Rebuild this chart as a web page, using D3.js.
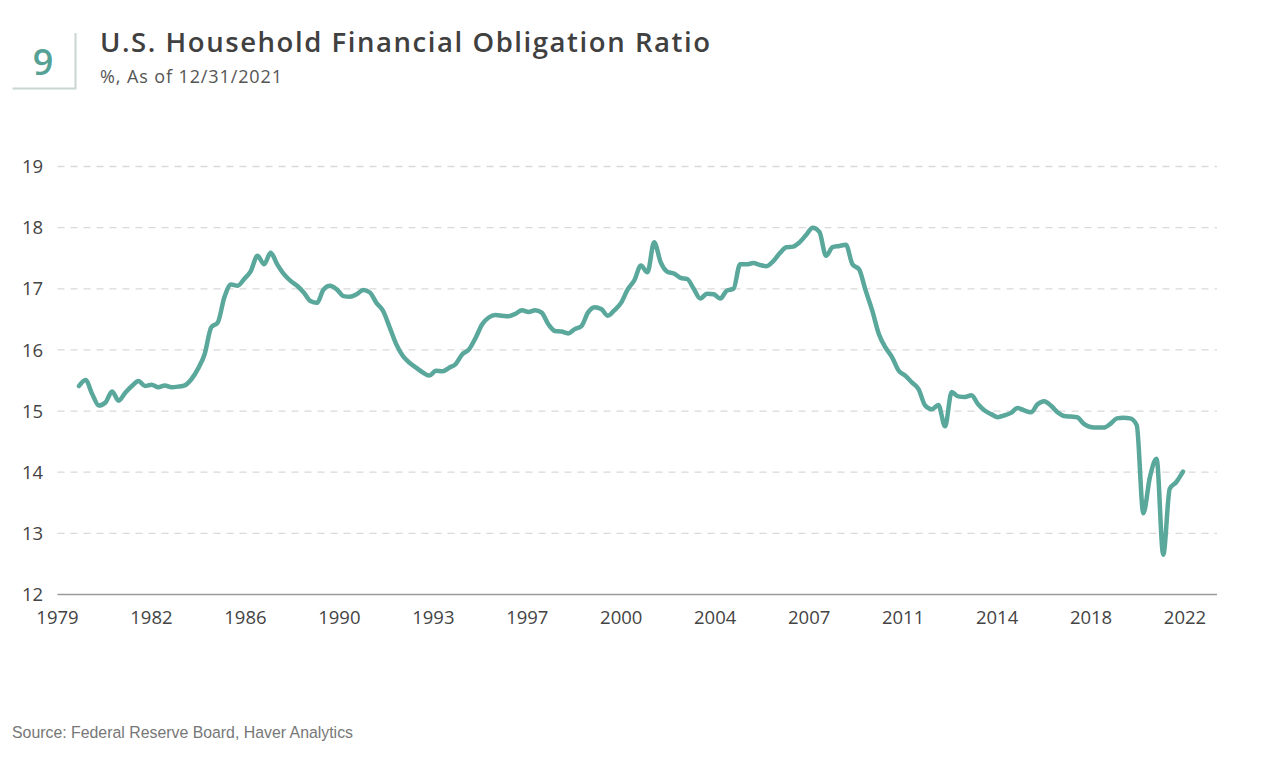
<!DOCTYPE html>
<html><head><meta charset="utf-8">
<script src="https://cdn.jsdelivr.net/npm/d3@7"></script>
<style>body{margin:0;background:#fff;} svg{display:block;}</style>
</head><body>
<svg id="chart" width="1280" height="781"></svg>
<script>
// ---- data ----
const startYear = 1980; // first quarter: 1980 Q1, quarterly through 2021 Q4
const ratio = [
15.41,15.51,15.28,15.09, // 1980
15.14,15.32,15.17,15.30, // 1981
15.41,15.49,15.41,15.43, // 1982
15.39,15.42,15.39,15.40, // 1983
15.42,15.52,15.69,15.93, // 1984
16.37,16.45,16.86,17.07, // 1985
17.05,17.16,17.29,17.54, // 1986
17.40,17.59,17.40,17.24, // 1987
17.13,17.05,16.94,16.80, // 1988
16.77,16.99,17.05,16.99, // 1989
16.88,16.87,16.91,16.98, // 1990
16.94,16.77,16.64,16.37, // 1991
16.09,15.90,15.79,15.71, // 1992
15.63,15.58,15.66,15.65, // 1993
15.71,15.77,15.93,16.01, // 1994
16.20,16.42,16.53,16.57, // 1995
16.56,16.55,16.59,16.65, // 1996
16.62,16.65,16.61,16.42, // 1997
16.31,16.30,16.27,16.34, // 1998
16.39,16.61,16.70,16.67, // 1999
16.56,16.65,16.77,16.99, // 2000
17.14,17.38,17.27,17.76, // 2001
17.43,17.28,17.25,17.18, // 2002
17.16,17.00,16.84,16.92, // 2003
16.91,16.84,16.97,17.00, // 2004
17.40,17.40,17.42,17.39, // 2005
17.37,17.45,17.58,17.68, // 2006
17.69,17.76,17.88,18.00, // 2007
17.93,17.54,17.68,17.70, // 2008
17.72,17.40,17.32,16.97, // 2009
16.64,16.26,16.04,15.88, // 2010
15.66,15.58,15.47,15.36, // 2011
15.09,15.03,15.10,14.75, // 2012
15.31,15.24,15.23,15.26, // 2013
15.11,15.01,14.95,14.90, // 2014
14.93,14.97,15.05,15.01, // 2015
14.98,15.11,15.16,15.09, // 2016
14.98,14.92,14.91,14.90, // 2017
14.79,14.74,14.73,14.73, // 2018
14.79,14.88,14.89,14.88, // 2019
14.77,13.33,13.92,14.22, // 2020
12.65,13.73,13.84,14.01  // 2021
];
const xTickLabels = ["1979","1982","1986","1990","1993","1997","2000","2004","2007","2011","2014","2018","2022"];
const yTicks = [12,13,14,15,16,17,18,19];

const chartNumber = "9";
const title = "U.S. Household Financial Obligation Ratio";
const subtitle = "%, As of 12/31/2021";
const source = "Source: Federal Reserve Board, Haver Analytics";

// ---- layout ----
const svg = d3.select("#chart");
const plotLeft = 57.5, plotRight = 1217;
const teal = "#5aa79b";
const textCol = "#444";

const data = ratio.map((v, i) => ({ date: new Date(startYear, i * 3, 1), value: v }));

const x = d3.scaleTime()
  .domain(d3.extent(data, d => d.date))
  .range([79, 1183]);
const xLab = d3.scalePoint().domain(xTickLabels).range([57.5, 1185]);
const y = d3.scaleLinear().domain([12, 19]).range([594.5, 166.5]);

// header box
svg.append("path")
  .attr("d", "M75.5,33 V88.5 H12.5")
  .attr("fill", "none").attr("stroke", "#c9d5cf").attr("stroke-width", 2);
svg.append("text").attr("x", 43).attr("y", 75).attr("text-anchor", "middle")
  .attr("font-family", "'Open Sans', sans-serif").attr("font-size", 36).attr("font-weight", 600)
  .attr("fill", "#55a196").text(chartNumber);
svg.append("text").attr("x", 100).attr("y", 52.3)
  .attr("font-family", "'Open Sans', sans-serif").attr("font-size", 27.5).attr("font-weight", 600)
  .attr("fill", "#404040").attr("textLength", 610).attr("lengthAdjust", "spacing").text(title);
svg.append("text").attr("x", 100).attr("y", 82.5)
  .attr("font-family", "'Open Sans', sans-serif").attr("font-size", 18)
  .attr("fill", "#555").attr("textLength", 182).attr("lengthAdjust", "spacing").text(subtitle);

// gridlines
const grid = svg.append("g");
grid.selectAll("line").data(yTicks.filter(t => t !== 12)).join("line")
  .attr("x1", plotLeft).attr("x2", plotRight)
  .attr("y1", d => y(d)).attr("y2", d => y(d))
  .attr("stroke", "#d9d9d9").attr("stroke-width", 1.3).attr("stroke-dasharray", "7,6");
// baseline
svg.append("line").attr("x1", plotLeft).attr("x2", plotRight)
  .attr("y1", y(12)).attr("y2", y(12)).attr("stroke", "#9a9a9a").attr("stroke-width", 1.5);

// y labels
svg.append("g").selectAll("text").data(yTicks).join("text")
  .attr("x", 22).attr("y", d => y(d)).attr("dy", "0.36em")
  .attr("font-family", "'Open Sans', sans-serif").attr("font-size", 18.5)
  .attr("fill", textCol).text(d => d);

// x labels
svg.append("g").selectAll("text").data(xTickLabels).join("text")
  .attr("x", d => xLab(d)).attr("y", 624).attr("text-anchor", "middle")
  .attr("font-family", "'Open Sans', sans-serif").attr("font-size", 18.5)
  .attr("fill", textCol).text(d => d);

// line
const line = d3.line().x(d => x(d.date)).y(d => y(d.value)).curve(d3.curveMonotoneX);
svg.append("path").datum(data).attr("d", line)
  .attr("fill", "none").attr("stroke", teal).attr("stroke-width", 4.5)
  .attr("stroke-linejoin", "round").attr("stroke-linecap", "round");

// source
svg.append("text").attr("x", 12).attr("y", 738)
  .attr("font-family", "'Liberation Sans', Arial, sans-serif").attr("font-size", 16.3)
  .attr("fill", "#777").attr("textLength", 341).attr("lengthAdjust", "spacingAndGlyphs").text(source);
</script>
</body></html>
